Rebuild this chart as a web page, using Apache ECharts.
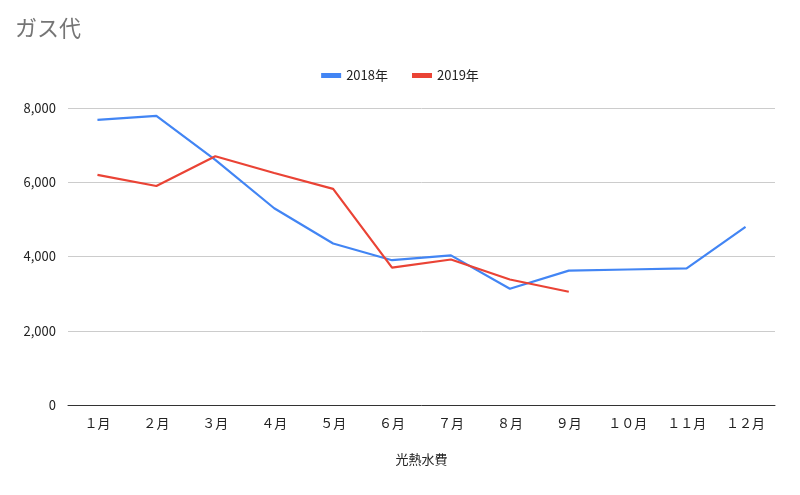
<!DOCTYPE html>
<html><head><meta charset="utf-8">
<script src="https://cdn.jsdelivr.net/npm/echarts@6/dist/echarts.min.js"></script>
<style>html,body{margin:0;padding:0;background:#fff}#c{width:800px;height:495px}</style>
</head><body><div id="c"></div>
<script>
const categories = ['１月','２月','３月','４月','５月','６月','７月','８月','９月','１０月','１１月','１２月'];
const s2018 = [7680,7790,6600,5300,4350,3900,4030,3130,3620,3650,3680,4800];
const s2019 = [6200,5900,6700,6250,5820,3700,3920,3380,3050];
const chart = echarts.init(document.getElementById('c'));
const font = '"Noto Sans CJK JP", "Noto Sans", sans-serif';
chart.setOption({
  textStyle:{fontFamily:font},
  title:{text:'ガス代',left:10,top:12,textStyle:{color:'#757575',fontSize:22,fontWeight:'normal',fontFamily:font}},
  legend:{top:64,left:'center',itemWidth:20,itemHeight:5,itemGap:24,icon:'rect',textStyle:{color:'#222',fontSize:13},
    data:['2018年','2019年']},
  grid:{left:68,right:25,top:108,bottom:90},
  xAxis:{type:'category',data:categories,boundaryGap:true,name:'光熱水費',nameLocation:'middle',nameGap:48,
    nameTextStyle:{color:'#222',fontSize:13},
    axisLine:{lineStyle:{color:'#333'}},axisTick:{show:false},axisLabel:{color:'#222',fontSize:13,margin:12}},
  yAxis:{type:'value',min:0,max:8000,interval:2000,axisLine:{show:false},axisTick:{show:false},
    axisLabel:{color:'#222',fontSize:13,margin:12},splitLine:{lineStyle:{color:'#ccc'}}},
  series:[
    {name:'2018年',type:'line',data:s2018,symbol:'none',lineStyle:{width:2.2,color:'#4285f4'},itemStyle:{color:'#4285f4'}},
    {name:'2019年',type:'line',data:s2019,symbol:'none',lineStyle:{width:2.2,color:'#ea4335'},itemStyle:{color:'#ea4335'}}
  ]
});
</script></body></html>
